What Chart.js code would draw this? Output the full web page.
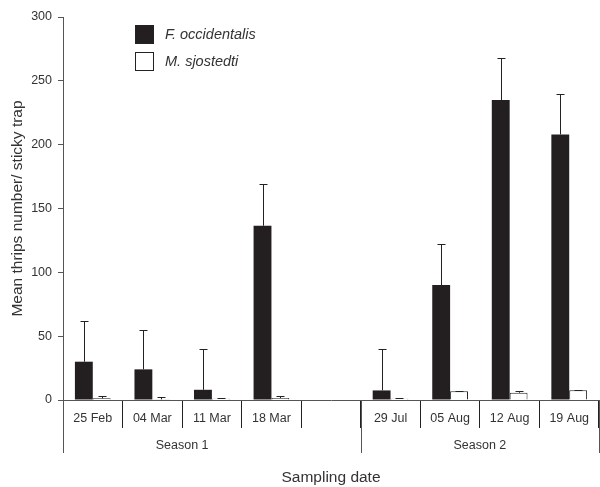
<!DOCTYPE html>
<html>
<head>
<meta charset="utf-8">
<script src="https://cdn.jsdelivr.net/npm/chart.js@4.4.1/dist/chart.umd.min.js"></script>
<style>
  html, body { margin: 0; padding: 0; background: #fff; }
  #wrap { width: 600px; height: 487px; }
</style>
</head>
<body>
<div id="wrap"><canvas id="thripsChart" width="600" height="487"></canvas></div>
<script>
// ── DATA ─────────────────────────────────────────────────────
const dates = ['25 Feb', '04 Mar', '11 Mar', '18 Mar', '', '29 Jul', '05 Aug', '12 Aug', '19 Aug']
const seasons = ['Season 1', 'Season 2']
const occidentalis = [30, 24, 8, 136.5, null, 7.5, 90, 235, 208]
const occidentalisErr = [32, 31, 32, 32.5, null, 32.5, 32, 32.5, 32]
const sjostedti = [1.3, 0.5, 1, 1.5, null, 1, 6.8, 5.7, 7.6]
const sjostedtiErr = [1.7, 1.5, 0.5, 1.5, null, 0.5, 0.5, 1.6, 0.5]
const yTicks = [0, 50, 100, 150, 200, 250, 300]

const FONT = '"Liberation Sans", Arial, Helvetica, sans-serif'
const TEXT = '#333'
const AXIS = '#555'

// ── ERROR BARS (upper only, with caps) ──────────────────────
const errorBars = {
  id: 'errorBars',
  afterDatasetsDraw(chart) {
    const { ctx, scales: { y } } = chart
    const errs = [occidentalisErr, sjostedtiErr]
    ctx.save()
    ctx.strokeStyle = '#222'
    ctx.lineWidth = 1
    chart.data.datasets.forEach((ds, di) => {
      chart.getDatasetMeta(di).data.forEach((bar, i) => {
        const v = ds.data[i]
        if (v == null || errs[di][i] == null) return
        const x = Math.round(bar.x) + 0.5
        const top = Math.round(y.getPixelForValue(v + errs[di][i])) + 0.5
        const base = y.getPixelForValue(v)
        ctx.beginPath()
        ctx.moveTo(x, base)
        ctx.lineTo(x, top)
        ctx.moveTo(x - 4, top)
        ctx.lineTo(x + 4, top)
        ctx.stroke()
      })
    })
    ctx.restore()
  }
}

// ── SEASON GROUPS + LEGEND ──────────────────────────────────
const extras = {
  id: 'extras',
  afterDraw(chart) {
    const { ctx, scales: { x }, chartArea } = chart
    const half = (x.getPixelForValue(1) - x.getPixelForValue(0)) / 2
    const edges = [x.getPixelForValue(0) - half, x.getPixelForValue(5) - half, x.getPixelForValue(8) + half]
    ctx.save()
    ctx.strokeStyle = AXIS
    ctx.lineWidth = 1
    edges.forEach(px => {
      const xx = Math.round(px) + 0.5
      ctx.beginPath()
      ctx.moveTo(xx, chartArea.bottom)
      ctx.lineTo(xx, 453)
      ctx.stroke()
    })
    ctx.fillStyle = TEXT
    ctx.font = '12.5px ' + FONT
    ctx.textAlign = 'center'
    ctx.textBaseline = 'middle'
    ctx.fillText(seasons[0], (x.getPixelForValue(0) + x.getPixelForValue(3)) / 2, 446)
    ctx.fillText(seasons[1], (x.getPixelForValue(5) + x.getPixelForValue(8)) / 2, 446)

    // legend
    ctx.textAlign = 'left'
    ctx.font = 'italic 14.5px ' + FONT
    chart.data.datasets.forEach((ds, i) => {
      const top = 25 + i * 27
      ctx.fillStyle = ds.backgroundColor
      ctx.fillRect(135, top, 18, 18)
      ctx.strokeStyle = '#222'
      ctx.strokeRect(135.5, top + 0.5, 18, 18)
      ctx.fillStyle = TEXT
      ctx.fillText(ds.label, 165, top + 9.5)
    })
    ctx.restore()
  }
}

// ── CHART ────────────────────────────────────────────────────
document.addEventListener('DOMContentLoaded', () => {
  const ctx = document.getElementById('thripsChart').getContext('2d')
  new Chart(ctx, {
    type: 'bar',
    data: {
      labels: dates,
      datasets: [
        {
          label: 'F. occidentalis',
          data: occidentalis,
          backgroundColor: '#231f20',
          borderWidth: 0,
          categoryPercentage: 0.6,
          barPercentage: 1.0
        },
        {
          label: 'M. sjostedti',
          data: sjostedti,
          backgroundColor: '#ffffff',
          borderColor: '#222',
          borderWidth: 1,
          categoryPercentage: 0.6,
          barPercentage: 1.0
        }
      ]
    },
    options: {
      responsive: false,
      animation: false,
      layout: { padding: { top: 17, right: 1, left: 0, bottom: 0 } },
      plugins: {
        legend: { display: false },
        tooltip: { enabled: false }
      },
      scales: {
        x: {
          afterFit: s => { s.height = 87 },
          border: { display: true, color: AXIS, width: 1 },
          grid: {
            offset: true,
            drawOnChartArea: false,
            drawTicks: true,
            tickLength: 28,
            color: '#222'
          },
          ticks: {
            padding: -17,
            maxRotation: 0,
            autoSkip: false,
            color: TEXT,
            font: { family: FONT, size: 12.5 }
          },
          title: {
            display: true,
            text: 'Sampling date',
            color: TEXT,
            padding: { top: 0, bottom: 0 },
            font: { family: FONT, size: 15.5 }
          }
        },
        y: {
          min: 0,
          max: 300,
          afterFit: s => { s.width = 63 },
          afterBuildTicks: s => { s.ticks = yTicks.map(v => ({ value: v })) },
          border: { display: true, color: AXIS, width: 1 },
          grid: {
            drawOnChartArea: false,
            drawTicks: true,
            tickLength: 5,
            color: AXIS
          },
          ticks: {
            padding: 6,
            color: TEXT,
            font: { family: FONT, size: 12.5 }
          },
          title: {
            display: true,
            text: 'Mean thrips number/ sticky trap',
            color: TEXT,
            padding: { top: 8, bottom: 0 },
            font: { family: FONT, size: 15.5 }
          }
        }
      }
    },
    plugins: [errorBars, extras]
  })
})
</script>
</body>
</html>
